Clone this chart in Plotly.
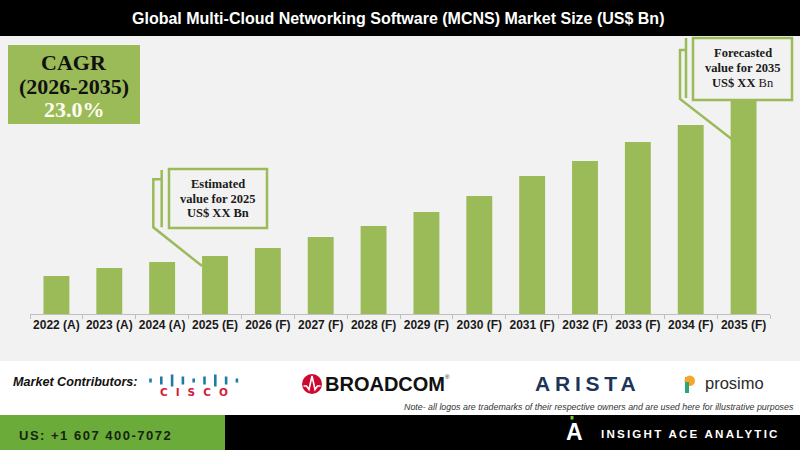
import plotly.graph_objects as go

W, H = 800, 450

years = ["2022 (A)", "2023 (A)", "2024 (A)", "2025 (E)", "2026 (F)", "2027 (F)", "2028 (F)",
         "2029 (F)", "2030 (F)", "2031 (F)", "2032 (F)", "2033 (F)", "2034 (F)", "2035 (F)"]
market_size = [3.8, 4.6, 5.2, 5.8, 6.6, 7.7, 8.8, 10.2, 11.8, 13.8, 15.3, 17.2, 18.9, 21.3]

title = "Global Multi-Cloud Networking Software (MCNS) Market Size (US$ Bn)"
cagr_lines = ["CAGR", "(2026-2035)", "23.0%"]
est_lines = ["Estimated", "value for 2025", "US$ XX Bn"]
fc_lines = ["Forecasted", "value for 2035", "US$ XX <span style='font-weight:normal'>Bn</span>"]
contrib_label = "Market Contributors:"
note = "Note- all logos are trademarks of their respective owners and are used here for illustrative purposes"
phone = "US: +1 607 400-7072"
brand = "INSIGHT ACE ANALYTIC"

GREEN = "#9bbb59"
BG = "#f2f2f2"

# plot area, in pixels of the 800x450 page
X0, X1 = 30, 770
BASE, TOP = 314, 40
PX_PER_UNIT = 10
cat_w = (X1 - X0) / len(years)
bar_frac = 0.49


def px(x):
    return x / W


def py(y):
    return 1 - y / H


def path(points):
    return "M " + " L ".join(f"{px(x):.5f},{py(y):.5f}" for x, y in points)


def bar_left(i):
    return X0 + (i + 0.5) * cat_w - bar_frac * cat_w / 2


def bar_top(i):
    return BASE - market_size[i] * PX_PER_UNIT


fig = go.Figure(go.Bar(x=years, y=market_size, marker=dict(color=GREEN, line_width=0),
                       hoverinfo="x+y"))

shapes = []


def rect(x0, y0, x1, y1, fill, line_color=None, lw=0, layer="below"):
    shapes.append(dict(type="rect", xref="paper", yref="paper",
                       x0=px(x0), x1=px(x1), y0=py(y1), y1=py(y0),
                       fillcolor=fill, line=dict(color=line_color or fill, width=lw),
                       layer=layer))


def line_path(points, color, lw, fill=None, layer="above"):
    shapes.append(dict(type="path", xref="paper", yref="paper", path=path(points),
                       line=dict(color=color, width=lw),
                       fillcolor=fill or "rgba(0,0,0,0)", layer=layer))


# backgrounds
rect(0, 36, 800, 361, BG)
rect(0, 0, 800, 36, "#000000")
rect(0, 415, 225, 450, "#6aab3a", layer="above")
rect(225, 415, 800, 450, "#000000", layer="above")

# CAGR box
rect(8, 45, 140, 124, GREEN, layer="above")

# callout for 2025
rect(169, 169, 267, 228, BG, GREEN, 2.5, layer="above")
line_path([(161.7, 170), (161.7, 227.3)], GREEN, 2.5)
line_path([(161.7, 179.3), (153.3, 179.3), (153.3, 227.3),
           (bar_left(3), bar_top(3) + 10)], GREEN, 2.5)

# callout for 2035
rect(693, 38, 792, 100, BG, GREEN, 2.5, layer="above")
line_path([(686, 38), (686, 98)], GREEN, 2.5)
line_path([(686, 50), (680, 50), (680, 99),
           (bar_left(13) + 1, bar_top(13) + 38)], GREEN, 2.5)

# cisco bars
cisco_h = [2, 4, 6, 4, 2, 4, 6, 4, 2]
for i, h in enumerate(cisco_h):
    cx = 150.5 + i * 10.8
    line_path([(cx, 380.5 - h), (cx, 380.5 + h)], "#1f7aa8", 2.6)

# broadcom mark
shapes.append(dict(type="circle", xref="paper", yref="paper",
                   x0=px(302), x1=px(322), y0=py(394), y1=py(374),
                   fillcolor="#cc092f", line=dict(color="#cc092f", width=0)))
line_path([(303.5, 386), (306.5, 386), (309, 389.5), (312, 376), (315, 389.5),
           (317.5, 386), (320.5, 386)], "#ffffff", 1.6)

# prosimo mark
rect(685, 377, 689, 389, "#3cae6b", layer="above")
shapes.append(dict(type="circle", xref="paper", yref="paper",
                   x0=px(684.5), x1=px(695), y0=py(386), y1=py(375.5),
                   fillcolor="#f5a72b", line=dict(width=0)))
rect(685, 382, 689, 393, "#2fa37a", layer="above")

# footer logo dot
rect(570.5, 416, 573.5, 419.5, "#7cc242", layer="above")

annotations = []


def text(x, y, s, size, color="#111111", family="Liberation Sans", weight="normal",
         style="normal", xanchor="center"):
    annotations.append(dict(x=px(x), y=py(y), xref="paper", yref="paper", text=s,
                            showarrow=False, xanchor=xanchor, yanchor="middle",
                            font=dict(family=family, size=size, color=color,
                                      weight=weight, style=style)))


text(398, 18, title, 16, "#ffffff", weight="bold")

serif = "Liberation Serif, DejaVu Serif, serif"
for s, y, c in zip(cagr_lines, [62, 86, 109], ["#111111", "#111111", "#fffdf0"]):
    text(74, y, s, 22, c, serif, "bold")
for s, y in zip(est_lines, [184, 198.7, 213.3]):
    text(217.7, y, s, 12.5, "#1a1a1a", serif, "bold")
for s, y in zip(fc_lines, [53, 67.7, 82.7]):
    text(742.7, y, s, 12.5, "#1a1a1a", serif, "bold")

text(10.5, 382.3, contrib_label, 12.6, "#111111", weight="bold", style="italic", xanchor="left")
text(157.5, 391.5, '<span style="letter-spacing:8px">CISCO</span>', 10.5,
     "#d2203c", "DejaVu Sans", "bold", xanchor="left")
text(322.5, 384, "BROADCOM", 20, "#111111", weight="bold", xanchor="left")
text(443.5, 377, "®", 6, "#111111", xanchor="left")
text(533, 383, '<span style="letter-spacing:4.8px">ARISTA</span>', 21,
     "#1c3559", weight="bold", xanchor="left")
text(702.5, 383, "prosimo", 16.5, "#2b2b2b", xanchor="left")
text(401.5, 406.7, note, 8.85, "#333333", style="italic", xanchor="left")

text(16.5, 435, f'<span style="letter-spacing:1.5px">{phone}</span>', 13,
     "#17230f", weight="bold", xanchor="left")
text(574.5, 431.5, "A", 23, "#ffffff", weight="bold")
text(599, 433, f'<span style="letter-spacing:2.2px">{brand}</span>', 11.6,
     "#ffffff", weight="bold", xanchor="left")

fig.update_layout(
    width=W, height=H,
    margin=dict(l=0, r=0, t=0, b=0),
    paper_bgcolor="#ffffff",
    plot_bgcolor="rgba(0,0,0,0)",
    showlegend=False,
    bargap=1 - bar_frac,
    shapes=shapes,
    annotations=annotations,
    xaxis=dict(
        domain=[px(X0), px(X1)],
        showline=True, linecolor="#bfbfbf", linewidth=1,
        ticks="outside", tickson="boundaries", ticklen=4, tickcolor="#bfbfbf",
        tickangle=0,
        showgrid=False, zeroline=False, fixedrange=True,
        tickfont=dict(family="Liberation Sans", size=12, color="#1a1a1a", weight="bold"),
    ),
    yaxis=dict(
        domain=[py(BASE), py(TOP)],
        range=[0, (BASE - TOP) / PX_PER_UNIT],
        visible=False, fixedrange=True,
    ),
)

# page has no body margin so the 800x450 figure fills the window exactly
fig.write_html("out.html", config={"displayModeBar": False},
               post_script="document.body.style.margin='0px';")
